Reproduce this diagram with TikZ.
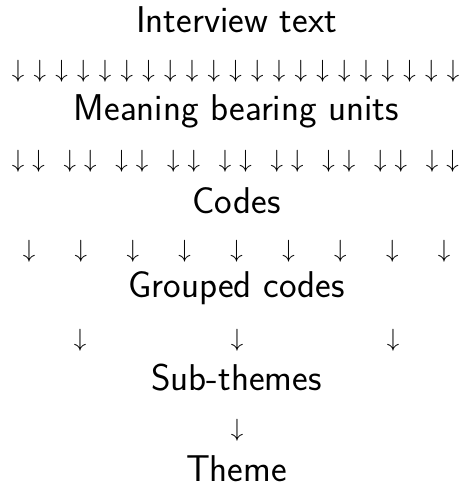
\documentclass[tikz,border=0pt]{standalone}
\usepackage{fontspec}
\begin{document}
\begin{tikzpicture}[x=1pt,y=-1pt,
  lbl/.style={anchor=base,inner sep=0pt,font=\sffamily\fontsize{37.3}{42}\selectfont},
  arr/.style={anchor=center,inner sep=0pt,font=\fontsize{28}{32}\selectfont}]
\useasboundingbox (0,0) rectangle (461,487);
\node[lbl] (t1) at (236.5,33) {Interview text};
\node[lbl] (t2) at (236.5,120) {Meaning bearing units};
\node[lbl] (t3) at (236.5,213) {Codes};
\node[lbl] (t4) at (236.5,297) {Grouped codes};
\node[lbl] (t5) at (236.5,390) {Sub-themes};
\node[lbl] (t6) at (236.5,481) {Theme};
\foreach \k in {0,...,20}
  \node[arr] (a1-\k) at ({18+21.75*\k},71.5) {$\downarrow$};
\foreach \k in {0,...,8}{
  \node[arr] (a2l-\k) at ({18+51.75*\k},161.5) {$\downarrow$};
  \node[arr] (a2r-\k) at ({38.5+51.75*\k},161.5) {$\downarrow$};
  \node[arr] (a3-\k) at ({29+51.9*\k},251.5) {$\downarrow$};
}
\foreach \k/\x in {0/80,1/237,2/393}
  \node[arr] (a4-\k) at (\x,340.5) {$\downarrow$};
\node[arr] (a5) at (237,430.5) {$\downarrow$};
\end{tikzpicture}
\end{document}
